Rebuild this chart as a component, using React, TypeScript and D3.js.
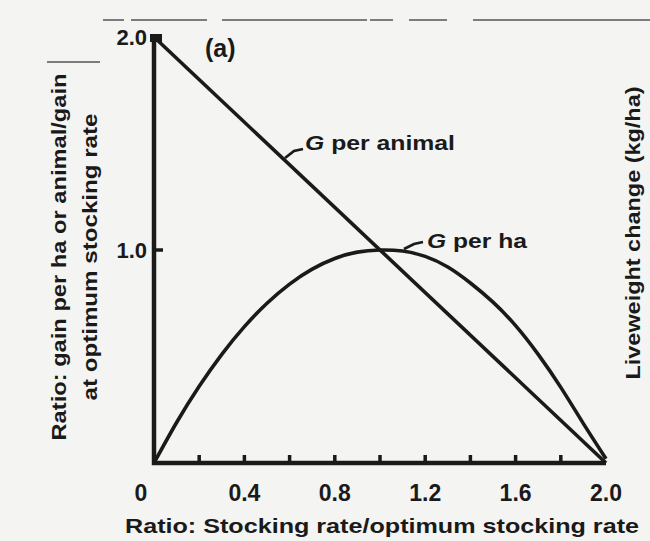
import React from "react";
import * as d3 from "d3";

const W = 650;
const H = 541;

// G per animal (straight line)
const animalX = [0, 2.0];
const animalY = [2.0, 0];

// G per ha (curve)
const haX = [0, 0.1, 0.2, 0.3, 0.4, 0.5, 0.6, 0.7, 0.8, 0.9, 1.0, 1.1, 1.2, 1.3, 1.4, 1.5, 1.6, 1.7, 1.8, 1.9, 2.0];
const haY = [0, 0.19, 0.36, 0.51, 0.64, 0.75, 0.84, 0.91, 0.96, 0.99, 1.0, 0.995, 0.97, 0.92, 0.845, 0.755, 0.645, 0.51, 0.355, 0.185, 0.02];

const xTickMarks = [0.2, 0.4, 0.6, 0.8, 1.0, 1.2, 1.4, 1.6, 1.8];
const xTickLabels = [0, 0.4, 0.8, 1.2, 1.6, 2.0];
const yTickLabels = [1.0, 2.0];

const FONT = "'Liberation Sans', Arial, sans-serif";

export default function App() {
  const x = d3.scaleLinear().domain([0, 2]).range([154, 606]);
  const y = d3.scaleLinear().domain([0, 2]).range([463, 37]);

  const line = d3
    .line<[number, number]>()
    .x((d) => x(d[0]))
    .y((d) => y(d[1]));
  const curve = d3
    .line<[number, number]>()
    .x((d) => x(d[0]))
    .y((d) => y(d[1]))
    .curve(d3.curveNatural);

  const animalPts: [number, number][] = animalX.map((v, i) => [v, animalY[i]]);
  const haPts: [number, number][] = haX.map((v, i) => [v, haY[i]]);

  const ink = "#1a1a1a";
  const bg = "#f4f4f2";

  return (
    <svg width={W} height={H} style={{ position: "absolute", left: 0, top: 0, background: bg }}>
      <rect x={0} y={0} width={W} height={H} fill={bg} />
      {/* scan artifact lines at the top */}
      <g stroke="#555" strokeWidth={1.5}>
        <line x1={103} x2={124} y1={20} y2={20} />
        <line x1={131} x2={207} y1={20} y2={20} />
        <line x1={222} x2={367} y1={20} y2={20} />
        <line x1={370} x2={393} y1={20} y2={20} />
        <line x1={409} x2={447} y1={20} y2={20} />
        <line x1={473} x2={650} y1={20} y2={20} />
        <line x1={47} x2={100} y1={62} y2={62} />
      </g>

      {/* axes */}
      <path
        d={`M${x(0)},${y(2)} L${x(0)},${y(0)} L${x(2)},${y(0)}`}
        fill="none"
        stroke={ink}
        strokeWidth={4.5}
        strokeLinejoin="miter"
      />
      <rect x={x(0) - 4} y={y(2) - 3} width={12} height={8} fill={ink} />
      {xTickMarks.map((t) => (
        <line key={t} x1={x(t)} x2={x(t)} y1={y(0)} y2={y(0) - 8} stroke={ink} strokeWidth={3.5} />
      ))}
      <line x1={x(0)} x2={x(0) + 9} y1={y(1)} y2={y(1)} stroke={ink} strokeWidth={3.5} />

      {/* series */}
      <path d={line(animalPts) || ""} fill="none" stroke={ink} strokeWidth={3.6} />
      <path d={curve(haPts) || ""} fill="none" stroke={ink} strokeWidth={3.6} />

      {/* leader hooks */}
      <path d="M285,158 L294,151 L303,149" fill="none" stroke={ink} strokeWidth={2.8} />
      <path d="M404,249 L414,244 L423,242" fill="none" stroke={ink} strokeWidth={2.8} />

      <g fontFamily={FONT} fontWeight="bold" fill={ink}>
        <text x={305} y={150} fontSize={20} textLength={150} lengthAdjust="spacingAndGlyphs">
          <tspan fontStyle="italic">G</tspan> per animal
        </text>
        <text x={427} y={248} fontSize={20} textLength={100} lengthAdjust="spacingAndGlyphs">
          <tspan fontStyle="italic">G</tspan> per ha
        </text>
        <text x={205} y={57} fontSize={25}>(a)</text>

        {xTickLabels.map((t) => (
          <text key={t} x={x(t) + (t === 0 ? -13 : 0)} y={501} fontSize={23} textAnchor="middle">
            {t === 0 ? "0" : t.toFixed(1)}
          </text>
        ))}
        {yTickLabels.map((t) => (
          <text key={t} x={147} y={y(t) + 8} fontSize={22} textAnchor="end">
            {t.toFixed(1)}
          </text>
        ))}

        <text x={125} y={533} fontSize={21} textLength={514} lengthAdjust="spacingAndGlyphs">
          Ratio: Stocking rate/optimum stocking rate
        </text>

        <text
          transform="translate(66,257) rotate(-90)"
          fontSize={21}
          textAnchor="middle"
          textLength={367}
          lengthAdjust="spacingAndGlyphs"
        >
          Ratio: gain per ha or animal/gain
        </text>
        <text
          transform="translate(97,257) rotate(-90)"
          fontSize={21}
          textAnchor="middle"
          textLength={287}
          lengthAdjust="spacingAndGlyphs"
        >
          at optimum stocking rate
        </text>
        <text
          transform="translate(640,233) rotate(-90)"
          fontSize={21}
          textAnchor="middle"
          textLength={293}
          lengthAdjust="spacingAndGlyphs"
        >
          Liveweight change (kg/ha)
        </text>
      </g>
    </svg>
  );
}
